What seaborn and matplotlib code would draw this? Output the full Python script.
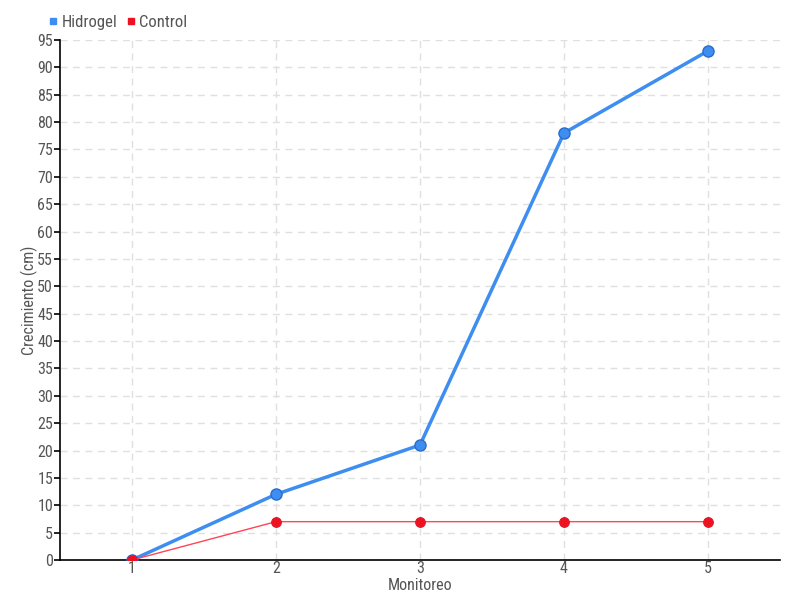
import matplotlib
matplotlib.use('Agg')
import matplotlib.pyplot as plt
import pandas as pd
import seaborn as sns
from matplotlib.lines import Line2D

monitoreo = [1, 2, 3, 4, 5]
hidrogel = [0, 12, 21, 78, 93]
control = [0, 7, 7, 7, 7]
y_ticks = list(range(0, 100, 5))

df = pd.DataFrame({
    'Monitoreo': monitoreo * 2,
    'Crecimiento': hidrogel + control,
    'Serie': ['Hidrogel'] * len(hidrogel) + ['Control'] * len(control),
})

sns.set_style('white')
plt.rcParams['font.family'] = ['Roboto Condensed', 'Liberation Sans Narrow', 'Roboto', 'DejaVu Sans']
text_color = '#555555'

fig = plt.figure(figsize=(8, 6), dpi=100)
ax = fig.add_axes([0.075, 0.0667, 0.9, 0.8667])

blue = '#3d8ef0'
red = '#ee1122'

sns.lineplot(data=df[df['Serie'] == 'Hidrogel'], x='Monitoreo', y='Crecimiento',
             color=blue, lw=2.5, marker='o', markersize=8, markeredgecolor='#2a6ccc',
             markeredgewidth=1, ax=ax, zorder=3)
sns.lineplot(data=df[df['Serie'] == 'Control'], x='Monitoreo', y='Crecimiento',
             color='#ff4455', lw=1, marker='o', markersize=7, markerfacecolor=red,
             markeredgecolor=red, ax=ax, zorder=4)

ax.set_xlim(0.5, 5.5)
ax.set_ylim(0, 95)
ax.set_xticks(monitoreo)
ax.set_yticks(y_ticks)
ax.grid(True, color='#e0e0e0', linestyle=(0, (5, 4)), lw=1)
ax.tick_params(axis='both', colors='black', labelcolor=text_color, labelsize=11.5,
               width=1.2, direction='out', left=True, bottom=True)
ax.tick_params(axis='y', length=4, pad=1)
ax.tick_params(axis='x', length=0, pad=1)
for side in ['top', 'right']:
    ax.spines[side].set_visible(False)
for side in ['left', 'bottom']:
    ax.spines[side].set_color('black')
    ax.spines[side].set_linewidth(1.2)

ax.set_xlabel('Monitoreo', color=text_color, fontsize=11.5)
ax.set_ylabel('Crecimiento (cm)', color=text_color, fontsize=11.5)
ax.xaxis.set_label_coords(0.5, -0.034)
ax.yaxis.set_label_coords(-0.03, 0.5)

handles = [
    Line2D([], [], marker='s', color='none', markerfacecolor=blue, markeredgecolor=blue, markersize=5),
    Line2D([], [], marker='s', color='none', markerfacecolor=red, markeredgecolor=red, markersize=5),
]
ax.legend(handles, ['Hidrogel', 'Control'], loc='lower left', bbox_to_anchor=(-0.03, 1.0),
          ncol=2, frameon=False, handlelength=0.6, handletextpad=0.2, columnspacing=0.5,
          fontsize=12, labelcolor=text_color, borderaxespad=0.2)

fig.savefig('out.png', dpi=100)
plt.close(fig)
